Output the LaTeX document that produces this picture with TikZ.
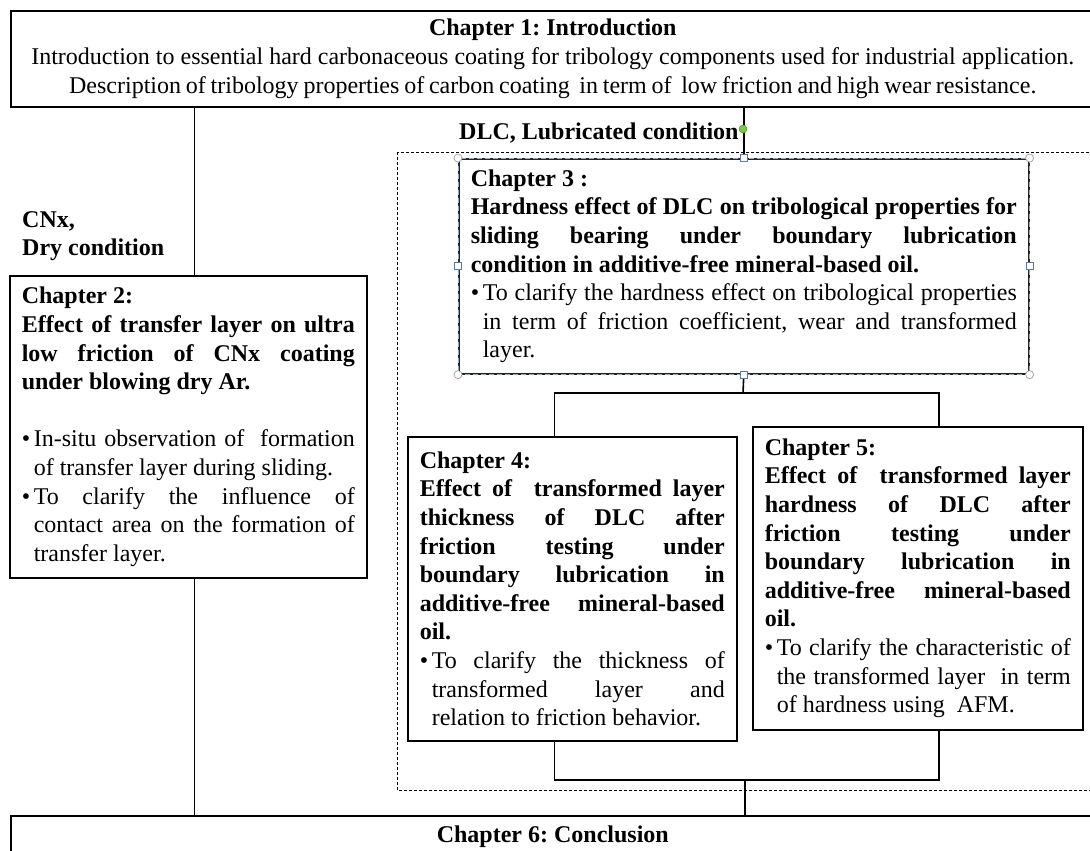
\documentclass[tikz,border=0pt]{standalone}
\usepackage{fontspec}
\setmainfont{Liberation Serif}
\setlength{\parindent}{0pt}
\newcommand{\chfont}{\fontsize{24}{28.6}\selectfont\frenchspacing}
\newcommand{\bul}{\par\hangindent=12pt\hangafter=1\noindent\makebox[12pt][l]{\textbullet}}
\definecolor{handleblue}{RGB}{90,120,160}
\definecolor{selblue}{RGB}{140,170,205}
\definecolor{rotgreen}{RGB}{122,201,67}

\begin{document}
\begin{tikzpicture}[x=1pt,y=-1pt,
    chapbox/.style={draw, line width=1.6pt, anchor=north west, inner xsep=12pt, inner ysep=0pt, align=justify, font=\chfont},
    widebox/.style={draw, line width=1.6pt, anchor=north west, minimum width=1084pt, inner ysep=0pt, align=center, font=\chfont},
    condlabel/.style={anchor=west, inner sep=0pt, align=left, font=\chfont\bfseries},
    link/.style={line width=1.6pt},
    hcirc/.style={circle, draw=gray!70, fill=white, line width=0.8pt, inner sep=0pt, minimum size=8pt},
    hsq/.style={rectangle, draw=handleblue, fill=white, line width=0.8pt, inner sep=0pt, minimum size=7pt},
    gdot/.style={circle, draw=rotgreen!70!black, fill=rotgreen, line width=0.5pt, inner sep=0pt, minimum size=8pt}]
  \useasboundingbox (0,0) rectangle (1090,851);

  % chapters
  \node[widebox, minimum height=96pt] (ch1) at (10,10)
    {\textbf{Chapter 1: Introduction}\\
     Introduction to essential hard carbonaceous coating for tribology components used for industrial application.\\
     {\spaceskip=0.2em plus 0.05em Description of tribology properties of carbon coating \ in term of \ low friction and high wear resistance.}};

  \node[condlabel] (cnx) at (22,236) {CNx,\\Dry condition};
  \node[condlabel] (dlc) at (459,133) {DLC, Lubricated condition};

  \draw[dashed, line width=0.6pt, dash pattern=on 3pt off 2pt] (397,152) rectangle (1100,790);

  \node[chapbox, text width=333pt, minimum height=302pt] (ch2) at (9,275)
    {{\bfseries Chapter 2:\par
      Effect of transfer layer on ultra\linebreak low friction of CNx coating\linebreak under blowing dry Ar.\par}
     \vspace{28.6pt}
     \bul In-situ observation of \ formation\linebreak of transfer layer during sliding.
     \bul To clarify the influence of\linebreak contact area on the formation of\linebreak transfer layer.\par};

  \node[chapbox, text width=546pt, minimum height=215pt, draw=black!85] (ch3) at (458,158)
    {{\bfseries Chapter 3 :\par
      Hardness effect of DLC on tribological properties for\linebreak sliding bearing under boundary lubrication\linebreak condition in additive-free mineral-based oil.\par}
     \bul To clarify the hardness effect on tribological properties\linebreak in term of friction coefficient, wear and transformed\linebreak layer.\par};

  \node[chapbox, text width=305pt, minimum height=304pt] (ch4) at (407,436)
    {{\bfseries Chapter 4:\par
      Effect of \ transformed layer\linebreak thickness of DLC after\linebreak friction testing under\linebreak boundary lubrication in\linebreak additive-free mineral-based\linebreak oil.\par}
     \bul To clarify the thickness of\linebreak transformed layer and\linebreak relation to friction behavior.\par};

  \node[chapbox, text width=306pt, minimum height=303pt] (ch5) at (752,426)
    {{\bfseries Chapter 5:\par
      Effect of \ transformed layer\linebreak hardness of DLC after\linebreak friction testing under\linebreak boundary lubrication in\linebreak additive-free mineral-based\linebreak oil.\par}
     \bul To clarify the characteristic of\linebreak the transformed layer \ in term\linebreak of hardness using \ AFM.\par};

  \node[widebox, minimum height=42pt] (ch6) at (10,815) {\textbf{Chapter 6: Conclusion}};

  % connectors
  \coordinate (c2top) at ([xshift=6pt]ch2.north);
  \coordinate (c2bot) at ([xshift=6pt]ch2.south);
  \draw[link] (ch1.south -| c2top) -- (c2top);
  \draw[link] (c2bot) -- (c2bot |- ch6.north);
  \draw[link] (ch1.south -| ch3.north) -- (ch3.north);

  \coordinate (fork) at (743,393);
  \coordinate (c4top) at ([xshift=-18pt]ch4.north);
  \coordinate (c5top) at ([xshift=21pt]ch5.north);
  \draw[link] (ch3.south) -- (fork);
  \draw[link] (c4top) |- (fork) -| (c5top);

  \coordinate (join) at (745,780);
  \coordinate (c4bot) at ([xshift=-18pt]ch4.south);
  \coordinate (c5bot) at ([xshift=21pt]ch5.south);
  \draw[link] (c4bot) |- (join) -| (c5bot);
  \draw[link] (join) -- (join |- ch6.north);

  % selection handles on chapter 3
  \draw[selblue, line width=0.8pt, dash pattern=on 5pt off 3pt] (ch3.north west) rectangle (ch3.south east);
  \foreach \a/\n in {north west/nw, north east/ne, south west/sw, south east/se}
    \node[hcirc] (h\n) at (ch3.\a) {};
  \foreach \a/\n in {north/n, south/s, east/e, west/w}
    \node[hsq] (h\n) at (ch3.\a) {};
  \node[gdot] (rot) at (743,129) {};
\end{tikzpicture}
\end{document}
